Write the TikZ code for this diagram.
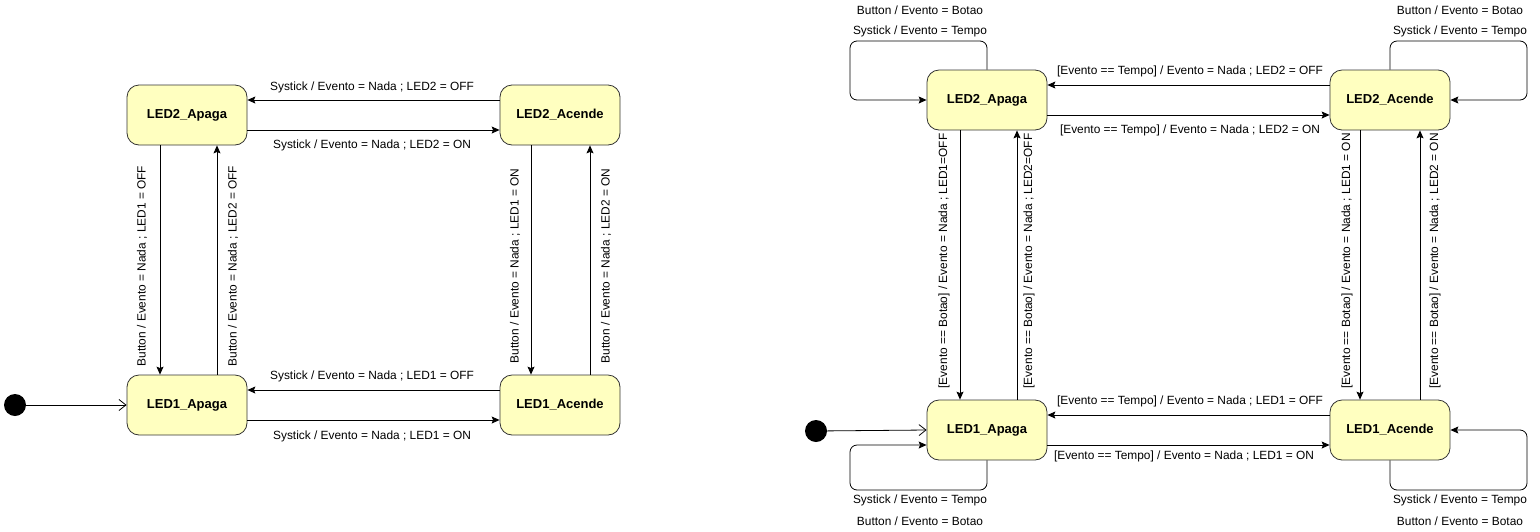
\documentclass[tikz,border=0pt]{standalone}
\usepackage{fontspec}
\setmainfont{Liberation Sans}
\usetikzlibrary{arrows.meta}
\definecolor{statefill}{HTML}{FFFFC0}
\definecolor{stateline}{HTML}{333333}
\begin{document}
\begin{tikzpicture}[x=1pt,y=-1pt,
  state/.style={draw=stateline, fill=statefill, rounded corners=12pt, minimum width=120pt, minimum height=60pt, inner sep=0pt, font=\bfseries\fontsize{13}{15}\selectfont, line width=0.8pt},
  lbl/.style={font=\fontsize{11.9}{13}\selectfont, inner sep=0pt},
  arr/.style={-{Stealth[length=8pt,width=7pt,inset=1.5pt]}, line width=0.8pt},
  openarr/.style={-{Straight Barb[length=7pt,width=11pt]}, line width=0.8pt},
  initst/.style={circle, fill=black, minimum size=22pt, inner sep=0pt},
  loopline/.style={arr, rounded corners=7pt}
]
\useasboundingbox (0,0) rectangle (1540,531);

% ---------- left diagram ----------
\node[state] (A2) at (187,115) {LED2\_Apaga};
\node[state] (C2) at (560,115) {LED2\_Acende};
\node[state] (A1) at (187,405) {LED1\_Apaga};
\node[state] (C1) at (560,405) {LED1\_Acende};
\node[initst] (I1) at (15,405) {};

\draw[openarr] (I1) -- (A1.west);

\draw[arr] ([yshift=15pt]C2.west) -- ([yshift=15pt]A2.east);
\draw[arr] ([yshift=-15pt]A2.east) -- ([yshift=-15pt]C2.west);
\draw[arr] ([yshift=15pt]C1.west) -- ([yshift=15pt]A1.east);
\draw[arr] ([yshift=-15pt]A1.east) -- ([yshift=-15pt]C1.west);

\draw[arr] ([xshift=-27pt]A2.south) -- ([xshift=-27pt]A1.north);
\draw[arr] ([xshift=30pt]A1.north) -- ([xshift=30pt]A2.south);
\draw[arr] ([xshift=-29pt]C2.south) -- ([xshift=-29pt]C1.north);
\draw[arr] ([xshift=30pt]C1.north) -- ([xshift=30pt]C2.south);

\node[lbl] (t1) at (372,87) {Systick / Evento = Nada ; LED2 = OFF};
\node[lbl] (t2) at (372,145) {Systick / Evento = Nada ; LED2 = ON};
\node[lbl] (t3) at (372,376) {Systick / Evento = Nada ; LED1 = OFF};
\node[lbl] (t4) at (372,436) {Systick / Evento = Nada ; LED1 = ON};
\node[lbl, rotate=90] (v1) at (142,266) {Button / Evento = Nada ; LED1 = OFF};
\node[lbl, rotate=90] (v2) at (233,266) {Button / Evento = Nada ; LED2 = OFF};
\node[lbl, rotate=90] (v3) at (515,266) {Button / Evento = Nada ; LED1 = ON};
\node[lbl, rotate=90] (v4) at (606,266) {Button / Evento = Nada ; LED2 = ON};

% ---------- right diagram ----------
\node[state] (B2) at (987,100) {LED2\_Apaga};
\node[state] (D2) at (1390,100) {LED2\_Acende};
\node[state] (B1) at (987,430) {LED1\_Apaga};
\node[state] (D1) at (1390,430) {LED1\_Acende};
\node[initst] (I2) at (816,431) {};

\draw[openarr] (I2) -- (B1.west);

\draw[arr] ([yshift=15pt]D2.west) -- ([yshift=15pt]B2.east);
\draw[arr] ([yshift=-15pt]B2.east) -- ([yshift=-15pt]D2.west);
\draw[arr] ([yshift=15pt]D1.west) -- ([yshift=15pt]B1.east);
\draw[arr] ([yshift=-15pt]B1.east) -- ([yshift=-15pt]D1.west);

\draw[arr] ([xshift=-27pt]B2.south) -- ([xshift=-27pt]B1.north);
\draw[arr] ([xshift=30pt]B1.north) -- ([xshift=30pt]B2.south);
\draw[arr] ([xshift=-30pt]D2.south) -- ([xshift=-30pt]D1.north);
\draw[arr] ([xshift=30pt]D1.north) -- ([xshift=30pt]D2.south);

\coordinate (L1) at (850,41);
\coordinate (L2) at (1527,41);
\coordinate (L3) at (850,490);
\coordinate (L4) at (1527,490);
\draw[loopline] (B2.north) |- (L1) |- (B2.west);
\draw[loopline] (D2.north) |- (L2) |- (D2.east);
\draw[loopline] (B1.south) |- (L3) |- ([yshift=-15pt]B1.west);
\draw[loopline] (D1.south) |- (L4) |- (D1.east);

\node[lbl] (r1) at (1190,71) {[Evento == Tempo] / Evento = Nada ; LED2 = OFF};
\node[lbl] (r2) at (1190,130) {[Evento == Tempo] / Evento = Nada ; LED2 = ON};
\node[lbl] (r3) at (1190,401) {[Evento == Tempo] / Evento = Nada ; LED1 = OFF};
\node[lbl] (r4) at (1184,456) {[Evento == Tempo] / Evento = Nada ; LED1 = ON};
\node[lbl, rotate=90] (w1) at (944,261) {[Evento == Botao] / Evento = Nada ; LED1=OFF};
\node[lbl, rotate=90] (w2) at (1029,261) {[Evento == Botao] / Evento = Nada ; LED2=OFF};
\node[lbl, rotate=90] (w3) at (1347,261) {[Evento == Botao] / Evento = Nada ; LED1 = ON};
\node[lbl, rotate=90] (w4) at (1435,261) {[Evento == Botao] / Evento = Nada ; LED2 = ON};

\node[lbl] (s1) at (920,10) {Button / Evento = Botao};
\node[lbl] (s2) at (920,31) {Systick / Evento = Tempo};
\node[lbl] (s3) at (1460,10) {Button / Evento = Botao};
\node[lbl] (s4) at (1460,31) {Systick / Evento = Tempo};
\node[lbl] (s5) at (920,500) {Systick / Evento = Tempo};
\node[lbl] (s6) at (920,521) {Button / Evento = Botao};
\node[lbl] (s7) at (1460,500) {Systick / Evento = Tempo};
\node[lbl] (s8) at (1460,521) {Button / Evento = Botao};
\end{tikzpicture}
\end{document}
